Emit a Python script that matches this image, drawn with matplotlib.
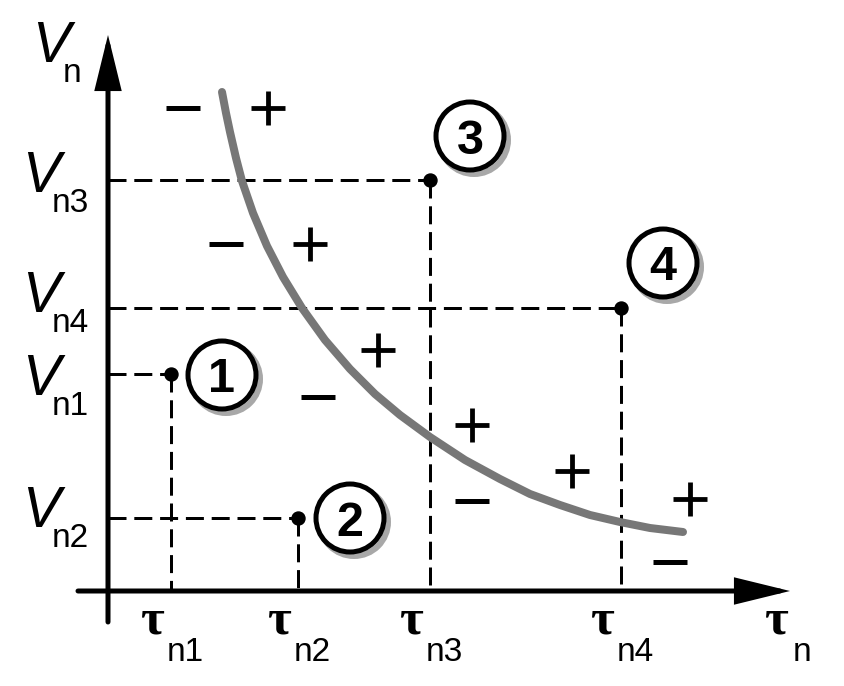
import matplotlib
matplotlib.use("Agg")
import matplotlib.pyplot as plt
from matplotlib.patches import Circle

# ---------------- data (diagram units: 1 unit = 1 px, origin at axes crossing) -------------
tau_labels = ["n1", "n2", "n3", "n4"]
tau_vals = [63, 190, 322, 513]          # tau_n1 .. tau_n4
v_labels = ["n1", "n2", "n3", "n4"]
v_vals = [217, 73, 411, 283]            # V_n1 .. V_n4
point_ids = ["1", "2", "3", "4"]

curve_x = [114, 118, 122, 128, 134, 145, 159, 175, 194, 217, 242, 267,
           292, 322, 357, 392, 422, 452, 482, 512, 542, 575]
curve_y = [499, 478, 459, 433, 410, 378, 345, 314, 283, 251, 222, 197,
           176, 154, 131, 112, 97, 86, 76, 69, 63, 59]

plus_x = [160, 202, 270, 364, 464, 582]
plus_y = [483, 347, 241, 166, 120, 92]
minus_x = [75, 118, 210, 364, 562]
minus_y = [483, 347, 194, 90, 29]

# ---------------- figure ----------------
PX = 0.72  # points per pixel at dpi=100
fig = plt.figure(figsize=(8.45, 6.86), dpi=100)
ax = fig.add_axes([0, 0, 1, 1])
ax.set_xlim(-108, 737)
ax.set_ylim(-95, 591)
ax.axis("off")

FONT = "Liberation Sans"
TAU_FONT = "Liberation Serif"

# axes with arrows
arrow_kw = dict(arrowstyle="-|>,head_length=31,head_width=7.6",
                mutation_scale=1, lw=5 * PX, color="black",
                shrinkA=0, shrinkB=0, joinstyle="miter")
ax.annotate("", xy=(0, 556), xytext=(0, -31), arrowprops=arrow_kw, zorder=5)
ax.annotate("", xy=(682, 0), xytext=(-30, 0), arrowprops=arrow_kw, zorder=5)

# dashed projection lines
dash_kw = dict(color="black", lw=3 * PX, dashes=(6, 2.6), zorder=2)
for t, v in zip(tau_vals, v_vals):
    ax.plot([0, t], [v, v], **dash_kw)
    ax.plot([t, t], [v, 0], **dash_kw)

# curve
ax.plot(curve_x, curve_y, color="#777777", lw=8 * PX,
        solid_capstyle="round", solid_joinstyle="round", zorder=3)

# points
ax.plot(tau_vals, v_vals, "o", color="black", ms=13 * PX, zorder=6)

# circled numbers
circle_offsets = [(51, -1), (52, 0), (40, 44), (42, 45)]
R = 34
for t, v, pid, (dx, dy) in zip(tau_vals, v_vals, point_ids, circle_offsets):
    cx, cy = t + dx, v + dy
    ax.add_patch(Circle((cx + 4, cy - 4), R, facecolor="none",
                        edgecolor="#a8a8a8", lw=6 * PX, zorder=6))
    ax.add_patch(Circle((cx, cy), R, facecolor="white",
                        edgecolor="black", lw=5 * PX, zorder=7))
    ax.text(cx, cy - 17.5, pid, ha="center", va="baseline",
            fontsize=35, fontweight="bold", family=FONT, zorder=8)

# plus / minus signs
ax.plot(plus_x, plus_y, "+", color="black", ms=34 * PX, mew=4.8 * PX,
        linestyle="none", zorder=4)
ax.plot(minus_x, minus_y, "_", color="black", ms=34 * PX, mew=5 * PX,
        linestyle="none", zorder=4)

# V labels
v_base_dy = [-21, -9, -12, -4]
for lab, v, dy in zip(v_labels, v_vals, v_base_dy):
    ax.text(-67, v + dy, "V", ha="center", va="baseline", fontsize=41,
            style="italic", family=FONT)
    ax.text(-56, v + dy - 20, lab, ha="left", va="baseline", fontsize=24,
            family=FONT)
ax.text(-57, 529, "V", ha="center", va="baseline", fontsize=41,
        style="italic", family=FONT)
ax.text(-45, 509, "n", ha="left", va="baseline", fontsize=24, family=FONT)

# tau labels
for lab, t in zip(tau_labels, tau_vals):
    ax.text(t - 6, -43, "\u03c4", ha="right", va="baseline", fontsize=37,
            fontweight="bold", family=TAU_FONT)
    ax.text(t - 4, -70, lab, ha="left", va="baseline", fontsize=24,
            family=FONT)
ax.text(669, -43, "\u03c4", ha="center", va="baseline", fontsize=37,
        fontweight="bold", family=TAU_FONT)
ax.text(685, -70, "n", ha="left", va="baseline", fontsize=24, family=FONT)

fig.savefig("out.png", dpi=100, facecolor="white")
